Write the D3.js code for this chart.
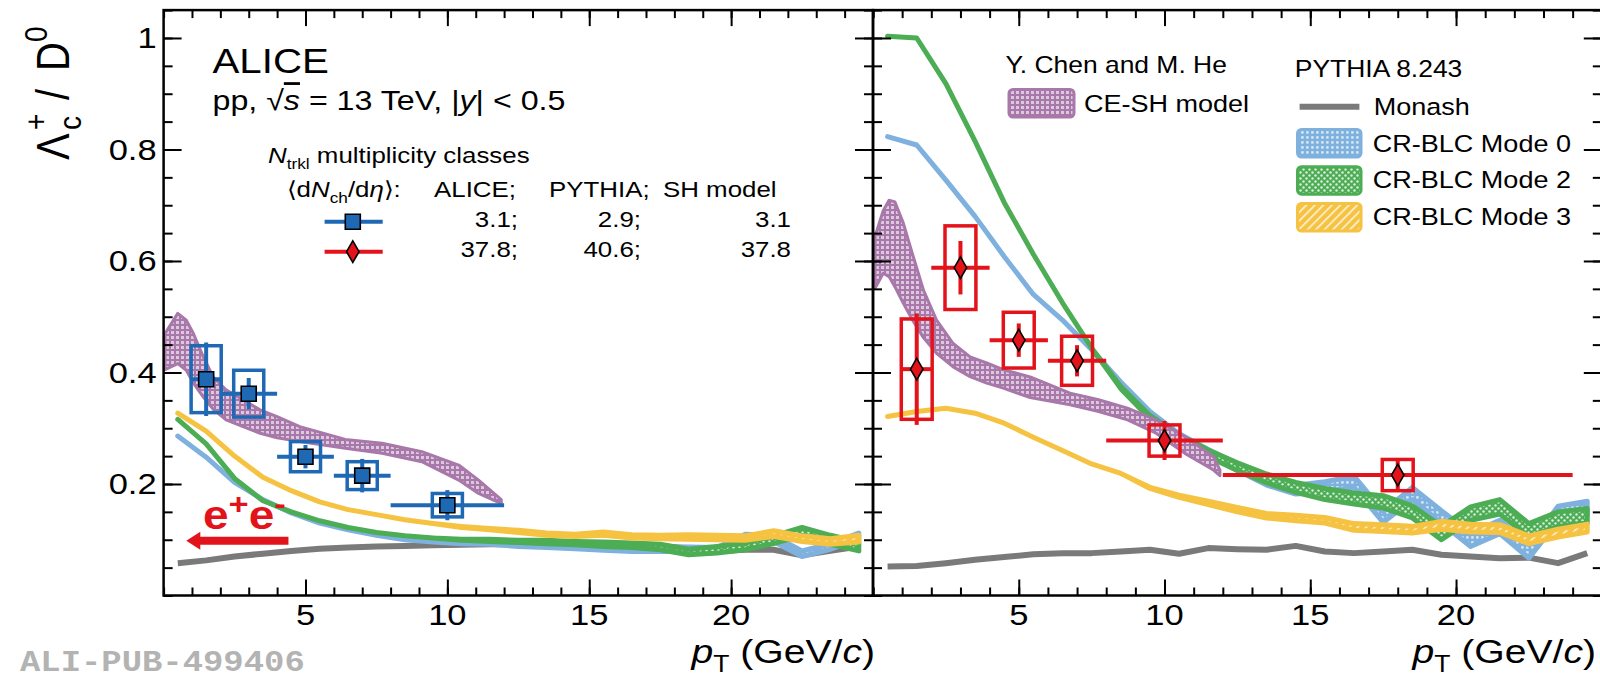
<!DOCTYPE html>
<html>
<meta charset="utf-8">
<title>Lambda_c+ / D0 vs pT, ALICE pp 13 TeV</title>
<style>
body { margin: 0; background: #fff; }
text { font-family: "Liberation Sans", Arial, Helvetica, sans-serif; fill: #000; }
</style>
<body>
<svg id="chart" width="1600" height="681"></svg>
<script src="https://d3js.org/d3.v7.min.js"></script>
<script>
// ---- data ----
// PYTHIA 8.243 bin centres (GeV/c)
var pythiaPt = [0.5,1.5,2.5,3.5,4.5,5.5,6.5,7.5,8.5,9.5,10.5,11.5,12.5,13.5,14.5,15.5,16.5,17.5,18.5,19.5,20.5,21.5,22.5,23.5,24.5];

// low multiplicity (left)
var monashL = [0.058,0.063,0.070,0.075,0.080,0.084,0.086,0.088,0.089,0.090,0.091,0.092,0.092,0.092,0.092,0.091,0.090,0.088,0.085,0.080,0.082,0.082,0.072,0.080,0.088];
var mode0L  = [0.286,0.248,0.203,0.172,0.148,0.130,0.118,0.108,0.100,0.096,0.094,0.093,0.090,0.088,0.086,0.084,0.082,0.082,0.083,0.082,0.106,0.102,0.075,0.088,0.106];
var mode0LErr = [0,0,0,0,0,0,0,0,0,0,0.001,0.001,0.002,0.002,0.002,0.003,0.003,0.003,0.004,0.004,0.004,0.005,0.005,0.005,0.006];
var mode2L  = [0.316,0.272,0.210,0.170,0.150,0.134,0.122,0.113,0.107,0.103,0.100,0.099,0.097,0.096,0.094,0.092,0.090,0.087,0.078,0.082,0.088,0.100,0.115,0.100,0.088];
var mode2LErr = [0,0,0,0,0,0,0,0,0,0,0.001,0.002,0.002,0.003,0.003,0.004,0.004,0.005,0.005,0.006,0.006,0.007,0.007,0.008,0.008];
var mode3L  = [0.327,0.295,0.250,0.212,0.188,0.168,0.154,0.145,0.136,0.129,0.123,0.119,0.115,0.110,0.108,0.111,0.106,0.105,0.105,0.104,0.103,0.111,0.102,0.097,0.102];
var mode3LErr = [0,0,0,0,0,0,0,0,0,0,0.001,0.001,0.002,0.002,0.002,0.003,0.003,0.003,0.004,0.004,0.004,0.005,0.005,0.005,0.006];

// high multiplicity (right)
var monashR = [0.052,0.053,0.058,0.064,0.069,0.074,0.076,0.076,0.079,0.082,0.075,0.085,0.083,0.082,0.089,0.079,0.076,0.079,0.082,0.073,0.070,0.067,0.068,0.058,0.076];
var mode0R  = [0.823,0.808,0.745,0.680,0.608,0.540,0.494,0.441,0.381,0.327,0.286,0.257,0.230,0.205,0.190,0.195,0.204,0.141,0.183,0.141,0.100,0.123,0.079,0.147,0.156];
var mode0RErr = [0,0,0,0,0,0,0,0,0.002,0.003,0.004,0.005,0.006,0.007,0.008,0.009,0.010,0.010,0.011,0.011,0.012,0.012,0.012,0.013,0.013];
var mode2R  = [1.003,1.000,0.918,0.815,0.705,0.612,0.525,0.444,0.373,0.320,0.283,0.255,0.231,0.210,0.194,0.182,0.174,0.168,0.150,0.112,0.147,0.159,0.117,0.137,0.143];
var mode2RErr = [0,0,0,0,0,0,0,0,0.002,0.003,0.005,0.006,0.007,0.008,0.009,0.010,0.010,0.011,0.011,0.012,0.012,0.013,0.012,0.013,0.013];
var mode3R  = [0.321,0.330,0.336,0.327,0.309,0.284,0.260,0.236,0.219,0.193,0.178,0.166,0.154,0.143,0.139,0.135,0.123,0.121,0.118,0.126,0.121,0.120,0.100,0.112,0.121];
var mode3RErr = [0,0,0,0,0,0,0,0,0,0.001,0.002,0.003,0.004,0.004,0.005,0.005,0.006,0.006,0.006,0.007,0.007,0.007,0.007,0.007,0.007];

// CE-SH model band (Y. Chen and M. He)
var ceshPtL = [0.05,0.5,0.8,1.05,1.4,1.75,2.2,2.8,3.4,4.0,4.8,6.4,7.7,9.1,10.4,11.1,11.9];
var ceshHiL = [0.470,0.506,0.494,0.470,0.428,0.392,0.369,0.351,0.333,0.321,0.303,0.280,0.273,0.258,0.234,0.207,0.172];
var ceshLoL = [0.405,0.416,0.404,0.381,0.356,0.334,0.315,0.303,0.291,0.283,0.276,0.264,0.255,0.240,0.207,0.183,0.165];
var ceshPtR = [0.07,0.35,0.55,0.75,1.04,1.38,1.73,2.18,2.75,3.33,3.9,4.47,5.39,6.76,7.74,8.73,9.71,10.7,11.68,11.9];
var ceshHiR = [0.644,0.690,0.709,0.706,0.668,0.608,0.548,0.494,0.452,0.428,0.417,0.405,0.392,0.363,0.351,0.336,0.315,0.285,0.249,0.225];
var ceshLoR = [0.551,0.578,0.572,0.554,0.524,0.492,0.4625,0.4345,0.410,0.3925,0.381,0.372,0.355,0.342,0.330,0.315,0.291,0.255,0.225,0.215];

// ALICE data
var lowPt   = [1.5, 3, 5, 7, 10];
var lowBinLo = [1, 2, 4, 6, 8];
var lowBinHi = [2, 4, 6, 8, 12];
var lowVal  = [0.388, 0.362, 0.249, 0.215, 0.162];
var lowStat = [0.066, 0.028, 0.021, 0.030, 0.027];
var lowSys  = [0.060, 0.042, 0.027, 0.025, 0.021];

var highPt   = [1.5, 3, 5, 7, 10, 18];
var highBinLo = [1, 2, 4, 6, 8, 12];
var highBinHi = [2, 4, 6, 8, 12, 24];
var highVal  = [0.406, 0.588, 0.458, 0.421, 0.278, 0.216];
var highStat = [0.100, 0.048, 0.030, 0.028, 0.035, 0.030];
var highSys  = [0.090, 0.075, 0.050, 0.044, 0.028, 0.028];

var eeValue = 0.098;          // e+e- reference
var eeArrowPt = [0.8, 4.4];

var xMajor = [5, 10, 15, 20];
var yMajor = [0.2, 0.4, 0.6, 0.8, 1];

// ---- drawing ----
var svg = d3.select("#chart");
var SX = 1.15;   // glyphs in the original are a bit wider than the font

var blue = "#7fb1df", green = "#4cad55", yellow = "#f6c241", grey = "#7a7a7a",
    purple = "#a878aa", dataBlue = "#1f68b4", red = "#e3131b";

var yTop = 10.1, yBot = 595.5;
var y = d3.scaleLinear().domain([0, 1.05]).range([yBot, yTop]);
var xL = d3.scaleLinear().domain([0, 25]).range([163.6, 873]);
var xR = d3.scaleLinear().domain([0, 25]).range([873, 1601.8]);

function label(parent, x, yy, size, str, anchor) {
  var t = parent.append("text")
    .attr("transform", "translate(" + x + "," + yy + ") scale(" + SX + ",1)")
    .attr("font-size", size)
    .attr("text-anchor", anchor || "start");
  if (str != null) t.text(str);
  return t;
}

// patterns
var defs = svg.append("defs");
function pat(id, size, bg) {
  var p = defs.append("pattern").attr("id", id).attr("patternUnits", "userSpaceOnUse")
    .attr("width", size).attr("height", size);
  p.append("rect").attr("width", size).attr("height", size).attr("fill", bg);
  return p;
}
pat("pCesh", 5, purple).append("rect").attr("x", 1).attr("y", 1).attr("width", 3).attr("height", 3)
  .attr("fill", "#fff").attr("opacity", 0.6);
pat("pM0", 5, blue).append("rect").attr("x", 1.2).attr("y", 1.2).attr("width", 2.4).attr("height", 2.4)
  .attr("fill", "#fff").attr("opacity", 0.75);
var p2 = pat("pM2", 6, green);
p2.append("circle").attr("cx", 1.5).attr("cy", 1.5).attr("r", 1.2).attr("fill", "#fff").attr("opacity", 0.8);
p2.append("circle").attr("cx", 4.5).attr("cy", 4.5).attr("r", 1.2).attr("fill", "#fff").attr("opacity", 0.8);
var p3 = pat("pM3", 6, yellow).attr("patternTransform", "rotate(45)");
p3.append("rect").attr("x", 0).attr("y", 0).attr("width", 1.6).attr("height", 6).attr("fill", "#fff").attr("opacity", 0.8);

// clip regions
defs.append("clipPath").attr("id", "clipL").append("rect")
  .attr("x", xL(0)).attr("y", yTop).attr("width", xL(25) - xL(0)).attr("height", yBot - yTop);
defs.append("clipPath").attr("id", "clipR").append("rect")
  .attr("x", xR(0)).attr("y", yTop).attr("width", xR(25) - xR(0)).attr("height", yBot - yTop);

function monash(g, x, vals) {
  g.append("path").datum(vals)
    .attr("d", d3.line().x(function(d, i) { return x(pythiaPt[i]); }).y(function(d) { return y(d); }))
    .attr("fill", "none").attr("stroke", grey).attr("stroke-width", 6).attr("stroke-linejoin", "round");
}
function band(g, x, vals, errs, color, fillId) {
  var a = d3.area().x(function(d, i) { return x(pythiaPt[i]); })
    .y0(function(d, i) { return y(d - errs[i]); })
    .y1(function(d, i) { return y(d + errs[i]); });
  g.append("path").datum(vals).attr("d", a)
    .attr("fill", "url(#" + fillId + ")").attr("stroke", color)
    .attr("stroke-width", 5).attr("stroke-linejoin", "round");
}
function cesh(g, x, pt, lo, hi) {
  var a = d3.area().x(function(d, i) { return x(pt[i]); })
    .y0(function(d, i) { return y(lo[i]); })
    .y1(function(d, i) { return y(hi[i]); });
  g.append("path").datum(pt).attr("d", a)
    .attr("fill", "url(#pCesh)").attr("stroke", purple).attr("stroke-width", 3)
    .attr("stroke-linejoin", "round");
}
function points(g, x, pt, bLo, bHi, val, stat, sys, color, sym) {
  pt.forEach(function(p, i) {
    g.append("rect")
      .attr("x", x(p - 0.53)).attr("y", y(val[i] + sys[i]))
      .attr("width", x(p + 0.53) - x(p - 0.53)).attr("height", y(val[i] - sys[i]) - y(val[i] + sys[i]))
      .attr("fill", "none").attr("stroke", color).attr("stroke-width", 3.5);
    g.append("line").attr("x1", x(bLo[i])).attr("x2", x(bHi[i]))
      .attr("y1", y(val[i])).attr("y2", y(val[i])).attr("stroke", color).attr("stroke-width", 4);
    g.append("line").attr("x1", x(p)).attr("x2", x(p))
      .attr("y1", y(val[i] - stat[i])).attr("y2", y(val[i] + stat[i])).attr("stroke", color).attr("stroke-width", 4);
    g.append("path").attr("d", sym).attr("transform", "translate(" + x(p) + "," + y(val[i]) + ")")
      .attr("fill", color).attr("stroke", "#000").attr("stroke-width", 1.6);
  });
}
var squareSym = d3.symbol().type(d3.symbolSquare).size(225)();
var diamondSym = d3.symbol().type(d3.symbolDiamond).size(135)();

function axes(x) {
  var g = svg.append("g");
  var x0 = x.range()[0], x1 = x.range()[1];
  var xMinor = x.ticks(25), yMinor = y.ticks(21);
  [[d3.axisBottom, yBot], [d3.axisTop, yTop]].forEach(function(a) {
    g.append("g").attr("transform", "translate(0," + a[1] + ")")
      .call(a[0](x).tickValues(xMinor).tickSize(-8).tickFormat(""));
    g.append("g").attr("transform", "translate(0," + a[1] + ")")
      .call(a[0](x).tickValues(xMajor).tickSize(-16).tickFormat(""));
  });
  [[d3.axisLeft, x0], [d3.axisRight, x1]].forEach(function(a) {
    g.append("g").attr("transform", "translate(" + a[1] + ",0)")
      .call(a[0](y).tickValues(yMinor).tickSize(-9).tickFormat(""));
    g.append("g").attr("transform", "translate(" + a[1] + ",0)")
      .call(a[0](y).tickValues(yMajor).tickSize(-18).tickFormat(""));
  });
  g.selectAll(".domain").remove();
  g.selectAll(".tick line").attr("stroke", "#000").attr("stroke-width", 2);
  g.append("rect").attr("x", x0).attr("y", yTop).attr("width", x1 - x0).attr("height", yBot - yTop)
    .attr("fill", "none").attr("stroke", "#000").attr("stroke-width", 2.5);
  xMajor.forEach(function(v) { label(svg, x(v), 625, 30, String(v), "middle"); });
  // axis title, right-aligned at the panel edge
  var t = label(svg, Math.min(x1 + 2, 1596), 663, 34, null, "end");
  t.append("tspan").attr("font-style", "italic").text("p");
  t.append("tspan").attr("font-size", 23).attr("dy", 9).text("T");
  t.append("tspan").attr("dy", -9).text(" (GeV/");
  t.append("tspan").attr("font-style", "italic").text("c");
  t.append("tspan").text(")");
}

// ---- left panel ----
var gL = svg.append("g").attr("clip-path", "url(#clipL)");
monash(gL, xL, monashL);
band(gL, xL, mode0L, mode0LErr, blue, "pM0");
band(gL, xL, mode2L, mode2LErr, green, "pM2");
band(gL, xL, mode3L, mode3LErr, yellow, "pM3");
cesh(gL, xL, ceshPtL, ceshLoL, ceshHiL);
points(gL, xL, lowPt, lowBinLo, lowBinHi, lowVal, lowStat, lowSys, dataBlue, squareSym);

// ---- right panel ----
var gR = svg.append("g").attr("clip-path", "url(#clipR)");
monash(gR, xR, monashR);
band(gR, xR, mode0R, mode0RErr, blue, "pM0");
band(gR, xR, mode2R, mode2RErr, green, "pM2");
band(gR, xR, mode3R, mode3RErr, yellow, "pM3");
cesh(gR, xR, ceshPtR, ceshLoR, ceshHiR);
points(gR, xR, highPt, highBinLo, highBinHi, highVal, highStat, highSys, red, diamondSym);

axes(xL);
axes(xR);

// y tick labels (left panel only)
yMajor.forEach(function(v) {
  label(svg, xL(0) - 7, y(v) + 10.5, 30, v === 1 ? "1" : v.toFixed(1), "end");
});

// y title  Λc+ / D0
var yt = svg.append("g").attr("transform", "translate(69,160) scale(" + SX + ",1) rotate(-90)").attr("font-size", 40);
yt.append("text").attr("x", 0).text("\u039B");
yt.append("text").attr("x", 30).attr("y", 10).attr("font-size", 28).text("c");
yt.append("text").attr("x", 30).attr("y", -19).attr("font-size", 28).text("+");
yt.append("text").attr("x", 60).text("/");
yt.append("text").attr("x", 89).text("D");
yt.append("text").attr("x", 118).attr("y", -19).attr("font-size", 28).text("0");

// e+e- arrow
var ey = y(eeValue);
svg.append("line").attr("x1", xL(eeArrowPt[1])).attr("x2", xL(eeArrowPt[0]) + 10)
  .attr("y1", ey).attr("y2", ey).attr("stroke", red).attr("stroke-width", 8);
svg.append("path")
  .attr("d", "M" + xL(eeArrowPt[0]) + "," + ey + "l14,-9l0,18z").attr("fill", red);
var ee = label(svg, 203, 529, 40, null).attr("font-weight", "bold").style("fill", red);
ee.append("tspan").style("fill", red).text("e");
ee.append("tspan").style("fill", red).attr("font-size", 30).attr("dy", -15).text("+");
ee.append("tspan").style("fill", red).attr("dy", 15).text("e");
ee.append("tspan").style("fill", red).attr("font-size", 30).attr("dy", -15).text("-");

// left legend
label(svg, 212.5, 73.3, 35, "ALICE");
var pp = label(svg, 212.5, 110, 28, null);
pp.append("tspan").text("pp, \u221A");
pp.append("tspan").attr("font-style", "italic").style("text-decoration", "overline").text("s");
pp.append("tspan").text(" = 13 TeV, |");
pp.append("tspan").attr("font-style", "italic").text("y");
pp.append("tspan").text("| < 0.5");

var nt = label(svg, 268, 163.3, 22.5, null);
nt.append("tspan").attr("font-style", "italic").text("N");
nt.append("tspan").attr("font-size", 15).attr("dy", 6).text("trkl");
nt.append("tspan").attr("dy", -6).text(" multiplicity classes");

var dn = label(svg, 287, 196.7, 22.5, null);
dn.append("tspan").text("\u27E8d");
dn.append("tspan").attr("font-style", "italic").text("N");
dn.append("tspan").attr("font-size", 15).attr("dy", 6).text("ch");
dn.append("tspan").attr("dy", -6).text("/d");
dn.append("tspan").attr("font-style", "italic").text("\u03B7");
dn.append("tspan").text("\u27E9:");
label(svg, 434, 196.7, 22.5, "ALICE;");
label(svg, 549, 196.7, 22.5, "PYTHIA;");
label(svg, 663, 196.7, 22.5, "SH model");

var legRows = [
  {color: dataBlue, sym: squareSym, y: 221.7, vals: ["3.1;", "2.9;", "3.1"]},
  {color: red, sym: diamondSym, y: 251.7, vals: ["37.8;", "40.6;", "37.8"]}
];
var colEnds = [518, 641, 791];
legRows.forEach(function(r) {
  svg.append("line").attr("x1", 324.6).attr("x2", 382.7).attr("y1", r.y).attr("y2", r.y)
    .attr("stroke", r.color).attr("stroke-width", 4);
  svg.append("path").attr("d", r.sym).attr("transform", "translate(352.8," + r.y + ")")
    .attr("fill", r.color).attr("stroke", "#000").attr("stroke-width", 1.6);
  r.vals.forEach(function(v, j) { label(svg, colEnds[j], r.y + 5, 22.5, v, "end"); });
});

// right legend
label(svg, 1005.5, 73.3, 23, "Y. Chen and M. He");
svg.append("rect").attr("x", 1009).attr("y", 89.5).attr("width", 65).attr("height", 27.5).attr("rx", 4)
  .attr("fill", "url(#pCesh)").attr("stroke", purple).attr("stroke-width", 3);
label(svg, 1084, 111.7, 23.5, "CE-SH model");

label(svg, 1294.8, 76.7, 23, "PYTHIA 8.243");
svg.append("line").attr("x1", 1299.6).attr("x2", 1359.4).attr("y1", 106.7).attr("y2", 106.7)
  .attr("stroke", grey).attr("stroke-width", 6);
label(svg, 1373.7, 115, 23.5, "Monash");
[["pM0", blue, 129.5, "CR-BLC Mode 0", 151.7],
 ["pM2", green, 166.7, "CR-BLC Mode 2", 188.3],
 ["pM3", yellow, 203.5, "CR-BLC Mode 3", 224.5]].forEach(function(e) {
  svg.append("rect").attr("x", 1297.5).attr("y", e[2]).attr("width", 63.5).attr("height", 27.5).attr("rx", 4)
    .attr("fill", "url(#" + e[0] + ")").attr("stroke", e[1]).attr("stroke-width", 3);
  label(svg, 1372.8, e[4], 23.5, e[3]);
});

// footer id
svg.append("text").attr("x", 0).attr("y", 0).attr("font-size", 30)
  .attr("font-weight", "bold").style("font-family", '"Liberation Mono", "DejaVu Sans Mono", monospace')
  .style("fill", "#b3b3b3").attr("transform", "translate(20,671) scale(1.13,1)")
  .text("ALI-PUB-499406");
</script>
</body>
</html>
